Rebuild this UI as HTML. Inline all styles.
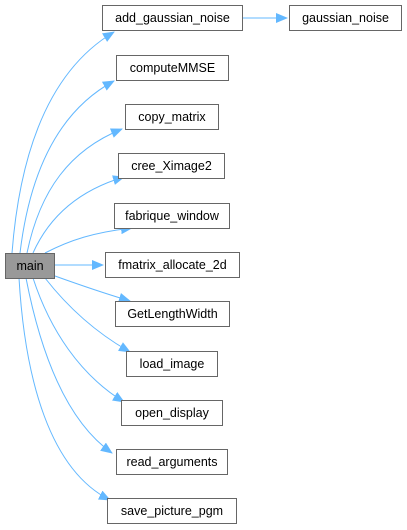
<!DOCTYPE html>
<html><head><style>body{margin:0;background:#fff}svg{display:block}</style></head><body>
<svg width="407" height="530" viewBox="0 0 407 530" xmlns="http://www.w3.org/2000/svg" font-family="Liberation Sans, sans-serif" font-size="12.5">
<defs><marker id="a" markerWidth="12" markerHeight="10" refX="11" refY="5" orient="auto" markerUnits="userSpaceOnUse"><polygon points="0,0 12,5 0,10" fill="#63b8ff"/></marker></defs>
<g fill="none" stroke="#63b8ff" stroke-width="1" marker-end="url(#a)">
<path d="M242,18 L287,18"/>
<path d="M12,253 C20,150 50,70 114,32"/>
<path d="M20,253 C30,170 60,110 114,81"/>
<path d="M27,253 C40,190 70,150 122,129"/>
<path d="M33,253 C50,215 80,190 124,177"/>
<path d="M45,253 C70,240 95,232 132,228"/>
<path d="M55,265 L103,265"/>
<path d="M55,276 C80,285 100,292 130,301"/>
<path d="M45,278 C70,310 100,335 130,352"/>
<path d="M33,278 C50,330 80,375 124,402"/>
<path d="M26,278 C40,350 65,420 112,453"/>
<path d="M19,278 C25,380 50,470 110,500"/>
</g>
<g stroke="#666" stroke-width="1" fill="#fff">
<rect x="5.5" y="253.5" width="49" height="25" fill="#999"/>
<rect x="102.5" y="5.5" width="140" height="25"/>
<rect x="289.5" y="5.5" width="112" height="25"/>
<rect x="116.5" y="55.5" width="112" height="25"/>
<rect x="125.5" y="104.5" width="93" height="25"/>
<rect x="118.5" y="153.5" width="106" height="25"/>
<rect x="114.5" y="203.5" width="115" height="25"/>
<rect x="105.5" y="252.5" width="134" height="25"/>
<rect x="115.5" y="301.5" width="114" height="25"/>
<rect x="126.5" y="351.5" width="91" height="25"/>
<rect x="121.5" y="400.5" width="101" height="25"/>
<rect x="116.5" y="449.5" width="111" height="25"/>
<rect x="107.5" y="498.5" width="129" height="25"/>
</g>
<g fill="#000" text-anchor="middle">
<text x="30" y="270">main</text>
<text x="172.5" y="22">add_gaussian_noise</text>
<text x="345.5" y="22">gaussian_noise</text>
<text x="172.5" y="72">computeMMSE</text>
<text x="172" y="121">copy_matrix</text>
<text x="171.5" y="170">cree_Ximage2</text>
<text x="172" y="220">fabrique_window</text>
<text x="172.5" y="269">fmatrix_allocate_2d</text>
<text x="172.5" y="318">GetLengthWidth</text>
<text x="172" y="368">load_image</text>
<text x="172" y="417">open_display</text>
<text x="172" y="466">read_arguments</text>
<text x="172" y="515">save_picture_pgm</text>
</g>
</svg>
</body></html>
